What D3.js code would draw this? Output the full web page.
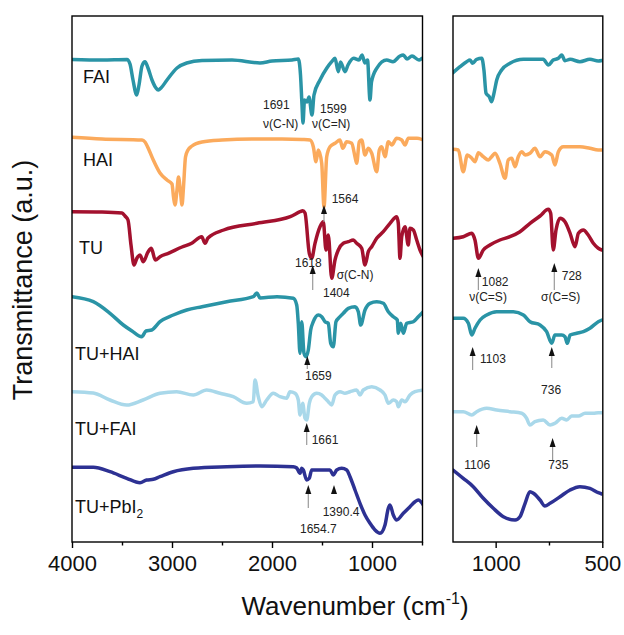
<!DOCTYPE html>
<html>
<head>
<meta charset="utf-8">
<script src="https://cdn.jsdelivr.net/npm/d3@7"></script>
<style>
  body { margin: 0; background: #fff; }
  text { font-family: "Liberation Sans", Arial, sans-serif; }
</style>
</head>
<body>
<div id="container"></div>
<script>
let w = 624;
let h = 635;

// series names (label text) and colours
let names = ["FAI", "HAI", "TU", "TU+HAI", "TU+FAI", "TU+PbI2"];
let colors = ["#2a94a6", "#fbaa5c", "#a3112e", "#2a94a6", "#a9d8ea", "#2d3193"];

// full range spectra: [wavenumber, transmittance (a.u., stacked)]
let fullFAI = [[4000,482.5],[3700,482],[3450,482.5],[3420,478],[3390,462],[3353,447],[3330,457],[3300,476],[3270,480.3],[3240,474],[3200,462],[3160,454],[3137,452],[3110,454],[3050,462],[2950,474],[2853,479],[2700,481.5],[2400,482],[2120,479],[2000,481],[1800,482],[1737,483],[1715,467],[1700,437],[1690,419],[1675,442],[1650,440],[1630,445],[1600,427],[1580,447],[1520,462],[1453,473.7],[1403,480.3],[1370,483.7],[1337,470.3],[1315,480],[1270,470.3],[1240,477],[1183,483.7],[1130,482],[1100,487],[1070,479],[1045,482],[1020,442],[1005,460],[953,473.7],[853,482],[790,480.3],[720,486],[687,487],[650,483],[600,486],[530,482],[500,483.7]];
let fullHAI = [[4000,404.7],[3700,403],[3300,402],[3270,400],[3230,392],[3187,382],[3120,369],[3050,362],[3000,358],[2985,345],[2970,337],[2950,352],[2935,365],[2915,350],[2900,337],[2885,355],[2865,385],[2840,392],[2800,396],[2700,400],[2500,402],[2200,403],[1900,403],[1700,402.5],[1620,402],[1587,395.3],[1560,380.3],[1537,392],[1503,378.7],[1480,335.3],[1453,385.3],[1420,395.3],[1370,398.7],[1320,402],[1293,393.7],[1253,400.3],[1203,398.7],[1170,385.3],[1153,378.7],[1127,400.3],[1103,402],[1070,387],[1037,393.7],[1003,388.7],[953,370.3],[927,392],[903,395.3],[870,385.3],[837,400.3],[803,397],[753,403.7],[703,402],[670,397],[637,403.7],[550,403.7],[487,402]];
let fullTU = [[4000,330.3],[3700,330],[3500,329],[3470,326],[3440,322],[3410,297],[3380,277],[3350,284],[3320,287],[3287,280.3],[3240,290],[3207,293.7],[3167,282],[3120,285.3],[3037,288.7],[2900,295],[2803,298.7],[2703,305.3],[2670,298.7],[2640,304],[2483,312],[2150,318.7],[1817,325.3],[1720,330.3],[1693,331.3],[1670,329],[1627,288.7],[1603,283.7],[1570,298.7],[1520,315.3],[1487,320.3],[1460,292],[1437,307],[1403,263.7],[1370,282],[1337,292],[1287,298.7],[1237,300.3],[1187,302],[1153,298.7],[1103,293.7],[1070,277],[1037,290.3],[1003,295.3],[953,303.7],[887,310.3],[820,318.7],[753,325.3],[737,318.7],[720,283.7],[703,305.3],[670,315.3],[637,297],[620,313.7],[587,312],[553,302],[520,292],[487,285.3]];
let fullTUHAI = [[4000,245.3],[3787,240.3],[3620,228.7],[3487,217],[3400,211],[3303,205.3],[3260,211],[3203,212],[3120,220.3],[2987,227],[2853,232],[2700,235.3],[2453,240.3],[2187,245.3],[2150,249],[2120,244],[1950,245.3],[1787,243.7],[1753,237],[1737,218.7],[1720,188.7],[1703,220.3],[1680,188.7],[1660,185.3],[1637,192],[1613,212],[1587,220.3],[1537,227],[1503,225.3],[1470,220.3],[1437,218.7],[1413,198.7],[1387,195.3],[1360,220.3],[1320,225.3],[1287,228.7],[1237,233.7],[1170,235.3],[1137,230.3],[1113,217],[1070,232],[1020,238.7],[953,240.3],[887,238.7],[837,230.3],[787,225.3],[747,222],[737,208.7],[713,218.7],[687,208.7],[653,218.7],[587,220.3],[537,225.3],[487,230.3]];
let fullTUFAI = [[4000,150.3],[3787,149],[3620,142],[3453,137],[3290,142],[3120,148.7],[2953,150.3],[2787,147],[2653,152],[2520,148.7],[2387,145.3],[2253,138.7],[2187,140.3],[2170,162],[2137,145.3],[2103,135.3],[2053,142],[1987,148.7],[1920,145.3],[1853,143.7],[1820,150.3],[1770,148.7],[1737,142],[1720,127],[1693,138.7],[1670,123.7],[1653,122],[1627,138.7],[1603,145.3],[1553,148.7],[1503,147],[1470,143.7],[1437,140.3],[1403,137],[1370,147],[1320,150.3],[1270,148.7],[1220,150.3],[1153,152],[1120,147],[1087,152],[1003,155.3],[920,152],[870,147],[837,138.7],[787,142],[753,140.3],[737,135.3],[703,142],[670,140.3],[620,147],[570,150.3],[487,152]];
let fullTUPbI2 = [[4000,74.7],[3787,74.7],[3620,70.3],[3453,63.7],[3320,59.3],[3253,62],[3187,62.7],[3120,65.3],[2987,70.3],[2787,73.7],[2453,75.3],[2120,76],[1787,75.3],[1753,74],[1720,68.7],[1703,73.7],[1687,72],[1653,62],[1627,63.7],[1603,72],[1553,72],[1487,72],[1420,72],[1387,67],[1353,72],[1303,73.7],[1253,72],[1220,65.3],[1170,52],[1120,38.7],[1070,27],[1020,18.7],[970,12],[920,8.7],[870,17],[837,33.7],[820,37],[787,27],[753,22],[687,28.7],[620,35.3],[570,40.3],[537,42],[487,37]];

// zoomed spectra 1200-500 cm-1
let zoomFAI = [[1200,469.3],[1167,475.3],[1136,480.3],[1120,482],[1108,478.7],[1089,482.7],[1065,483.7],[1055,472],[1045,448.7],[1030,445.3],[1019,440.3],[1008,448.7],[995,462],[972,472],[933,478.7],[870,482.7],[777,482.7],[753,477],[730,482],[706,483.7],[690,487],[675,481.3],[651,482.7],[605,480.3],[558,482.7],[519,481],[502,481.5]];
let zoomHAI = [[1200,392.7],[1175,392],[1152,370.3],[1133,387],[1112,383.7],[1097,380.3],[1081,389.3],[1058,385.3],[1034,382],[1019,385.3],[1003,388.7],[980,378.7],[956,363.7],[941,382],[925,383.7],[909,375.3],[894,385.3],[878,390.3],[862,387],[839,388.7],[816,393.7],[792,385.3],[769,390.3],[737,387],[722,377],[706,390.3],[683,395.3],[651,395.3],[605,395.3],[558,393.7],[519,392],[502,392]];
let zoomTU = [[1200,303.7],[1152,305.3],[1112,308.7],[1097,302],[1081,283.7],[1058,292],[1027,297],[980,302],[933,305.3],[886,310.3],[839,318.7],[792,326],[753,332.7],[742,328.7],[730,292],[717,312],[698,323.7],[675,320.3],[651,308.7],[628,295.3],[612,308.7],[589,312],[566,307],[542,298.7],[519,293.7],[502,292]];
let zoomTUHAI = [[1200,223.7],[1152,223.7],[1128,218.7],[1112,207],[1097,213.7],[1073,222],[1042,227],[995,230.3],[917,230.3],[870,227],[839,220.3],[792,217],[761,210.3],[737,198.7],[722,207],[690,207],[675,205.3],[664,198.7],[651,207],[620,208.7],[589,210.3],[558,213.7],[519,220.3],[502,222]];
let zoomTUFAI = [[1200,130.3],[1152,130.3],[1112,127],[1089,130.3],[1042,133.7],[995,132],[933,130.3],[878,128.7],[855,123.7],[839,117],[816,120.3],[777,122],[745,117],[722,118.7],[690,123.7],[667,122],[644,126],[612,126],[581,128.7],[542,128.7],[519,129.3],[502,129.3]];
let zoomTUPbI2 = [[1200,72],[1152,63.7],[1105,55.3],[1058,43.7],[1011,33.7],[964,25.3],[909,22],[886,25.3],[862,38.7],[839,50.3],[823,48.7],[792,42],[769,36],[745,38.7],[698,45.3],[651,52],[605,55.3],[558,53.7],[519,49.3],[502,48]];

let fullSeries = [fullFAI, fullHAI, fullTU, fullTUHAI, fullTUFAI, fullTUPbI2];
let zoomSeries = [zoomFAI, zoomHAI, zoomTU, zoomTUHAI, zoomTUFAI, zoomTUPbI2];

// tick values
let fullMajor = [4000, 3000, 2000, 1000];
let fullMinor = [3500, 2500, 1500, 500];
let zoomMajor = [1000, 500];
let zoomMinor = [750];

// peak arrows: [panel, wavenumber, tip, tail]
let arrows = [
  ["full", 1480, 337, 320], ["full", 1593, 277, 252], ["full", 1647, 186, 173],
  ["full", 1653, 119, 97], ["full", 1637, 57, 34], ["full", 1380, 57, 49],
  ["zoom", 1081, 274, 252], ["zoom", 725, 279, 252], ["zoom", 1108, 195, 172],
  ["zoom", 737, 195, 174], ["zoom", 1089, 117, 95], ["zoom", 733, 104, 82]
];
// peak labels: [panel, text, wavenumber (left edge), baseline]
let notes = [
  ["full", "1691", 2090, 432.7], ["full", "\u03bd(C-N)", 2090, 414],
  ["full", "1599", 1520, 429], ["full", "\u03bd(C=N)", 1600, 414],
  ["full", "1564", 1403, 339], ["full", "1618", 1770, 275],
  ["full", "\u03c3(C-N)", 1353, 263.5], ["full", "1404", 1490, 244.7],
  ["full", "1659", 1670, 162], ["full", "1661", 1603, 98],
  ["full", "1390.4", 1493, 26.3], ["full", "1654.7", 1720, 8.7],
  ["zoom", "1082", 1065, 256], ["zoom", "\u03bd(C=S)", 1124, 241],
  ["zoom", "728", 690, 262], ["zoom", "\u03c3(C=S)", 787, 241],
  ["zoom", "1103", 1073, 179], ["zoom", "736", 787, 148],
  ["zoom", "1106", 1147, 73], ["zoom", "735", 753, 73]
];

// label layout (px)
let labelPos = [[83, 83], [83, 166], [79, 254], [75, 360], [75, 435], [75, 513]];

let svg = d3.select("#container")
  .append("svg")
  .attr("width", w)
  .attr("height", h);

let yTop = 16, yBottom = 542;
let y = d3.scaleLinear().domain([0, 526]).range([yBottom, yTop]);
let xFull = d3.scaleLinear().domain([4000, 500]).range([72, 422]);
let xZoom = d3.scaleLinear().domain([1200, 500]).range([453, 602.3]);
let scales = { full: xFull, zoom: xZoom };

function panel(id, x, series, major, minor) {
  let x0 = x.range()[0], x1 = x.range()[1];
  let g = svg.append("g").attr("class", id);

  g.append("clipPath").attr("id", "clip-" + id)
    .append("rect").attr("x", x0).attr("y", yTop).attr("width", x1 - x0).attr("height", yBottom - yTop);

  let line = d3.line()
    .x(d => x(d[0]))
    .y(d => y(d[1]))
    .curve(d3.curveMonotoneX);

  g.append("g").attr("clip-path", "url(#clip-" + id + ")")
    .selectAll("path").data(series).enter()
    .append("path")
    .attr("d", line)
    .attr("fill", "none")
    .attr("stroke", (d, i) => colors[i])
    .attr("stroke-width", 3.5)
    .attr("stroke-linejoin", "round")
    .attr("stroke-linecap", "round");

  g.append("rect")
    .attr("x", x0).attr("y", yTop)
    .attr("width", x1 - x0 + 0.5).attr("height", yBottom - yTop)
    .attr("fill", "none").attr("stroke", "#000").attr("stroke-width", 1.4);

  let ax = g.append("g").attr("transform", "translate(0," + yBottom + ")")
    .call(d3.axisBottom(x).tickValues(major).tickSize(6).tickPadding(7).tickFormat(d3.format("d")));
  ax.select(".domain").remove();
  ax.selectAll("line").attr("stroke-width", 1.4);
  ax.selectAll("text").attr("font-size", 22).attr("fill", "#111")
    .style("font-family", "'Liberation Sans', Arial, sans-serif");

  let mn = g.append("g").attr("transform", "translate(0," + yBottom + ")")
    .call(d3.axisBottom(x).tickValues(minor).tickSize(3.5).tickFormat(""));
  mn.select(".domain").remove();
  mn.selectAll("line").attr("stroke-width", 1.4);
}

panel("full", xFull, fullSeries, fullMajor, fullMinor);
panel("zoom", xZoom, zoomSeries, zoomMajor, zoomMinor);

// arrows
arrows.forEach(a => {
  let x = scales[a[0]](a[1]);
  let yt = y(a[2]), yb = y(a[3]);
  svg.append("line")
    .attr("x1", x).attr("x2", x).attr("y1", yt + 6).attr("y2", yb)
    .attr("stroke", "#9a9a9a").attr("stroke-width", 1.2);
  svg.append("path")
    .attr("d", "M" + x + "," + yt + "L" + (x - 3) + "," + (yt + 9) + "L" + (x + 3) + "," + (yt + 9) + "Z")
    .attr("fill", "#111");
});

// peak labels
svg.selectAll(".note").data(notes).enter()
  .append("text")
  .attr("class", "note")
  .attr("x", d => scales[d[0]](d[2]))
  .attr("y", d => y(d[3]))
  .attr("font-size", 12)
  .attr("fill", "#222")
  .text(d => d[1]);

// series labels
names.forEach((n, i) => {
  let t = svg.append("text")
    .attr("x", labelPos[i][0]).attr("y", labelPos[i][1])
    .attr("font-size", 18).attr("fill", "#111");
  if (n === "TU+PbI2") {
    t.append("tspan").text("TU+PbI");
    t.append("tspan").text("2").attr("font-size", 12).attr("dy", 5);
  } else {
    t.text(n);
  }
});

// axis titles
svg.append("text")
  .attr("transform", "translate(32,280) rotate(-90)")
  .attr("text-anchor", "middle")
  .attr("font-size", 27)
  .attr("fill", "#111")
  .text("Transmittance (a.u.)");

let xt = svg.append("text")
  .attr("x", 355).attr("y", 615)
  .attr("text-anchor", "middle")
  .attr("font-size", 26)
  .attr("fill", "#111");
xt.append("tspan").text("Wavenumber (cm");
xt.append("tspan").text("-1").attr("font-size", 16).attr("dy", -11);
xt.append("tspan").text(")").attr("dy", 11);
</script>
</body>
</html>
